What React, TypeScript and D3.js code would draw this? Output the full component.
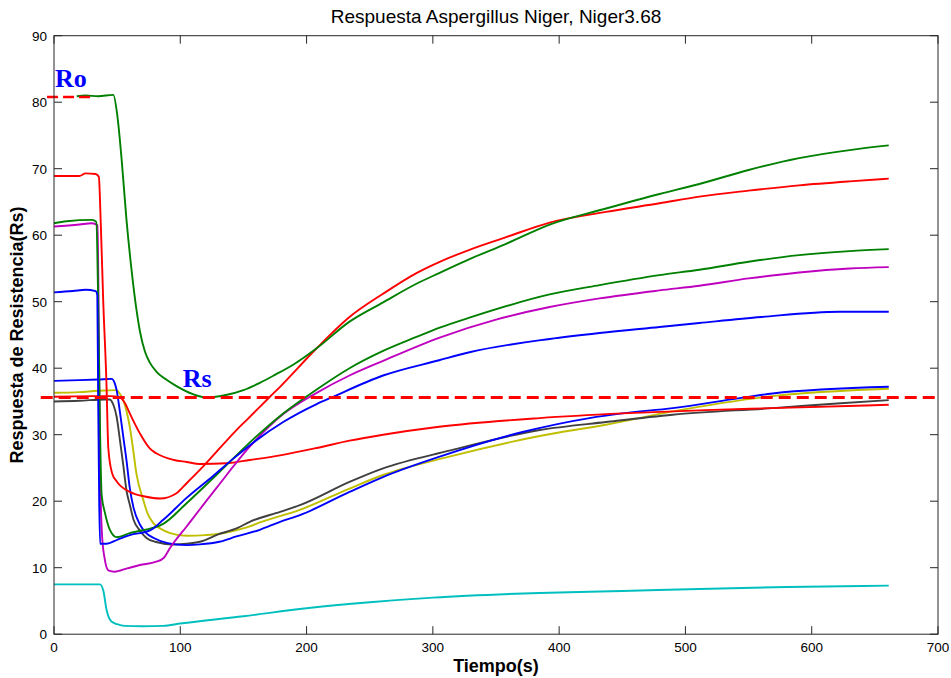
import React from "react";
import * as d3 from "d3";

type P = [number, number];

const title = "Respuesta Aspergillus Niger, Niger3.68";
const xLabel = "Tiempo(s)";
const yLabel = "Respuesta de Resistencia(Rs)";
const xTicks = [0, 100, 200, 300, 400, 500, 600, 700];
const yTicks = [0, 10, 20, 30, 40, 50, 60, 70, 80, 90];

const roLevel = 80.8;
const rsLevel = 35.6;

const green1: P[] = [[18,80.9],[25,81.0],[35,80.9],[47,81.1],[50,78.2],[53.6,71.3],[57.4,62.3],[61.4,54.8],[65.3,48.8],[68,45.6],[72,42.5],[76,40.8],[81,39.5],[88,38.4],[97,37.3],[110,36.1],[121,35.6],[137,36.0],[150,36.7],[163,37.8],[175,39.0],[190,40.6],[208,43],[234,47],[260.6,49.9],[287,52.7],[305,54.3],[329,56.4],[358,58.7],[392.5,61.6],[435,63.9],[479.5,66.2],[511,67.7],[550,69.8],[590,71.6],[630,72.8],[661,73.5]];
const red1: P[] = [[0,68.9],[20,68.9],[25,69.3],[33,69.2],[35.5,68.8],[37,62],[39,50],[41.5,38],[43,28],[46,24.2],[50,22.9],[60,21.4],[72,20.7],[84,20.4],[97,21.2],[105,22.7],[118,25.2],[144.5,30.7],[152.5,32.2],[171,35.7],[179,37.2],[208,43],[234,47.7],[260.6,51.2],[287,54.3],[305.4,56],[329,57.8],[358,59.7],[392.5,61.9],[437,63.5],[479.5,64.8],[511,65.8],[550,66.7],[590,67.5],[630,68.1],[661,68.5]];
const red2: P[] = [[0,35.7],[30,35.8],[45,35.8],[52,35.6],[56,34.8],[60,33.2],[68,30.2],[76,27.9],[81,27.2],[95,26.2],[105,25.9],[115.5,25.6],[136.6,25.7],[155,26.2],[179,26.9],[208,28.0],[234,29.1],[260.6,30.0],[305,31.2],[384.6,32.5],[450,33.2],[516,33.7],[569,34],[661,34.5]];
const green2: P[] = [[0,61.8],[10,62.1],[30,62.3],[33.5,62.0],[35,50],[36.5,30],[37.7,21],[40.4,18.2],[44,15.8],[49.6,14.6],[60,15.2],[86.5,16.6],[105,19.7],[131,24.4],[157.7,29.3],[181.5,33.2],[208,36.8],[234,40.0],[260.6,42.6],[287,44.7],[305.4,46.1],[329,47.6],[392.5,51.1],[432,52.5],[479.5,54.0],[511,54.8],[550,56],[590,57],[630,57.6],[661,57.9]];
const magenta: P[] = [[0,61.3],[20,61.6],[30,61.8],[34.5,61.5],[35.5,45],[36.5,25],[38,15],[40,11.5],[43,9.6],[48,9.4],[58,9.9],[68,10.4],[81,10.9],[87,11.5],[92,13],[105,16.2],[128.7,22],[155,28.2],[181.5,33.1],[208,36.3],[234,38.9],[260.6,41.1],[305.4,44.6],[350,47.3],[392.5,49.2],[432,50.5],[479.5,51.7],[511,52.4],[550,53.5],[590,54.4],[630,55],[661,55.2]];
const blue1: P[] = [[0,51.4],[15,51.6],[25,51.8],[33,51.6],[34.3,51],[35,35],[35.8,20],[36.5,13.6],[41.7,13.6],[50,14.2],[60,14.9],[76,15.6],[86.5,17.2],[105,20.5],[126,23.8],[142,26.4],[157.7,28.8],[181.5,31.9],[208,34.6],[221,35.7],[260.6,38.9],[305,41.2],[329,42.4],[392.5,44.4],[432,45.3],[479.5,46.2],[511,46.8],[560,47.7],[622,48.5],[661,48.5]];
const blue2: P[] = [[0,38.1],[20,38.2],[35,38.3],[45.6,38.4],[48,37.8],[49.6,36.7],[52,33.7],[55,29.5],[57.5,26],[60,22],[63,19],[68,16.5],[73,15.2],[78.6,14.5],[90,13.7],[105,13.4],[115.5,13.5],[131,13.9],[144.5,14.7],[163,15.7],[179,16.9],[194.7,17.9],[234,21.4],[260,23.6],[305.4,26.7],[371,30.4],[424,32.5],[450,33.2],[490,34],[543,35.5],[569,36.2],[661,37.2]];
const gray: P[] = [[0,35.0],[20,35.1],[40,35.3],[44,35.3],[47,34.5],[49.6,32.7],[52,29.5],[54.8,25.5],[57.5,21.5],[60,19.5],[63,17.2],[68,15.6],[73,14.5],[80,13.9],[94.4,13.5],[105,13.6],[115.5,13.9],[130,15],[144.5,15.9],[155,16.9],[179,18.4],[194.7,19.4],[234,22.9],[260,24.9],[313,27.6],[384.6,30.7],[437,31.9],[490,33],[569,34],[620,34.7],[661,35.2]];
const yellow: P[] = [[0,36.3],[20,36.4],[35,36.6],[49.6,36.7],[52,36.2],[54.8,35.2],[57.5,33.5],[60,31.2],[62.5,28],[65.4,24],[70.7,20.2],[74,18.2],[78.6,16.7],[85,15.8],[92,15.2],[105,14.8],[120,14.9],[131,15.1],[139,15.4],[155,16.2],[163,16.8],[194.7,18.7],[234,21.9],[260,23.9],[313,26.7],[384.6,29.8],[437,31.5],[490,33.5],[569,35.8],[661,36.9]];
const cyan: P[] = [[0,7.5],[20,7.5],[36.4,7.5],[39,6.6],[41.7,3.6],[45.5,1.9],[50,1.5],[56,1.25],[70,1.2],[86.4,1.25],[100,1.6],[150,2.7],[200,3.9],[250,4.8],[300,5.5],[384.6,6.2],[450,6.5],[511,6.8],[580,7.1],[661,7.3]];

const seriesList: { data: P[]; color: string }[] = [
  { data: cyan, color: "#00bfbf" },
  { data: yellow, color: "#bfbf00" },
  { data: gray, color: "#404040" },
  { data: blue2, color: "#0000ff" },
  { data: red2, color: "#ff0000" },
  { data: magenta, color: "#bf00bf" },
  { data: green2, color: "#008000" },
  { data: blue1, color: "#0000ff" },
  { data: red1, color: "#ff0000" },
  { data: green1, color: "#008000" },
];

const W = 951;
const H = 678;
const L = 54;
const R = 938;
const T = 35.7;
const B = 634.2;

export default function App() {
  const x = d3.scaleLinear().domain([0, 700]).range([L, R]);
  const y = d3.scaleLinear().domain([0, 90]).range([B, T]);
  const line = d3
    .line<P>()
    .x((d) => x(d[0]))
    .y((d) => y(d[1]))
    .curve(d3.curveMonotoneX);
  const font = "'Liberation Sans', Arial, Helvetica, sans-serif";
  const tl = 8;
  return (
    <svg
      width={W}
      height={H}
      style={{ position: "absolute", left: 0, top: 0, background: "#fff" }}
    >
      <rect x={0} y={0} width={W} height={H} fill="#fff" />
      <text x={(L + R) / 2} y={23} textAnchor="middle" fontFamily={font} fontSize={19} fill="#000">
        {title}
      </text>
      <g stroke="#262626" strokeWidth={1}>
        {xTicks.map((t) => (
          <g key={"xt" + t}>
            <line x1={x(t)} x2={x(t)} y1={B} y2={B - tl} />
            <line x1={x(t)} x2={x(t)} y1={T} y2={T + tl} />
          </g>
        ))}
        {yTicks.map((t) => (
          <g key={"yt" + t}>
            <line x1={L} x2={L + tl} y1={y(t)} y2={y(t)} />
            <line x1={R} x2={R - tl} y1={y(t)} y2={y(t)} />
          </g>
        ))}
      </g>
      {xTicks.map((t) => (
        <text key={"xl" + t} x={x(t)} y={652} textAnchor="middle" fontFamily={font} fontSize={13.5} fill="#000">
          {t}
        </text>
      ))}
      {yTicks.map((t) => (
        <text key={"yl" + t} x={47} y={y(t) + 4.8} textAnchor="end" fontFamily={font} fontSize={13.5} fill="#000">
          {t}
        </text>
      ))}
      <g fill="none" strokeWidth={1.9} strokeLinejoin="round">
        {seriesList.map((s, i) => (
          <path key={i} d={line(s.data) || ""} stroke={s.color} />
        ))}
      </g>
      <line x1={x(-10.5)} x2={x(700)} y1={y(rsLevel)} y2={y(rsLevel)} stroke="#ff0000" strokeWidth={3} strokeDasharray="12,6" />
      <line x1={x(-5.5)} x2={x(32.5)} y1={y(roLevel)} y2={y(roLevel)} stroke="#ff0000" strokeWidth={2.5} strokeDasharray="11,5" />
      <rect x={L} y={T} width={R - L} height={B - T} fill="none" stroke="#262626" strokeWidth={1} />
      <text x={55} y={86.7} fontFamily="'Liberation Serif', 'Times New Roman', serif" fontWeight="bold" fontSize={26} fill="#0000ff">
        Ro
      </text>
      <text x={182.7} y={386.7} fontFamily="'Liberation Serif', 'Times New Roman', serif" fontWeight="bold" fontSize={26} fill="#0000ff">
        Rs
      </text>
      <text x={(L + R) / 2} y={672} textAnchor="middle" fontFamily={font} fontWeight="bold" fontSize={18} fill="#000">
        {xLabel}
      </text>
      <text
        transform={`translate(23,${(T + B) / 2}) rotate(-90)`}
        textAnchor="middle"
        fontFamily={font}
        fontWeight="bold"
        fontSize={18}
        fill="#000"
      >
        {yLabel}
      </text>
    </svg>
  );
}
